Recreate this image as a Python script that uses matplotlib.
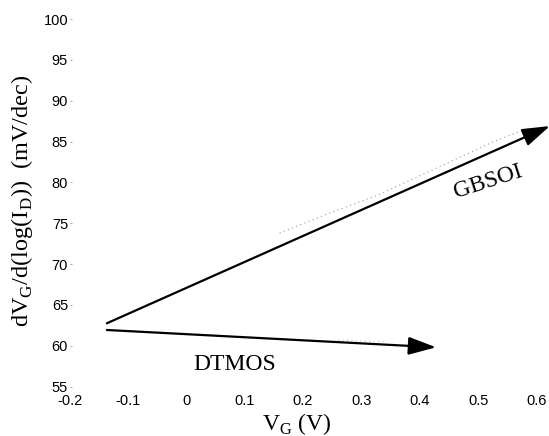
import matplotlib
matplotlib.use("Agg")
import matplotlib.pyplot as plt

# Axis ranges / ticks
x_ticks = [-0.2, -0.1, 0, 0.1, 0.2, 0.3, 0.4, 0.5, 0.6]
x_tick_labels = ["-0.2", "-0.1", "0", "0.1", "0.2", "0.3", "0.4", "0.5", "0.6"]
y_ticks = [55, 60, 65, 70, 75, 80, 85, 90, 95, 100]

# Arrows (start -> tip) in data coordinates
gbsoi_x = [-0.136, 0.623]
gbsoi_y = [62.76, 86.9]
dtmos_x = [-0.136, 0.428]
dtmos_y = [61.94, 59.82]

# faint dotted data traces (scanned remnants)
gb_trace_x = [0.16, 0.24, 0.33, 0.43, 0.53, 0.57]
gb_trace_y = [73.8, 76.1, 78.5, 81.8, 85.1, 86.2]
dt_trace_x = [0.26, 0.30, 0.34]
dt_trace_y = [60.7, 60.6, 60.5]

fig = plt.figure(figsize=(5.49, 4.36), dpi=100)
ax = fig.add_axes([0.1266, 0.1131, 0.8506, 0.8433])
ax.set_xlim(-0.2, 0.6)
ax.set_ylim(55, 100)
for s in ax.spines.values():
    s.set_visible(False)

ax.set_xticks(x_ticks)
ax.set_xticklabels(x_tick_labels)
ax.set_yticks(y_ticks)
ax.tick_params(axis="both", direction="in", length=1.5, width=0.6, color="#999999",
               labelsize=10.5, labelfontfamily="Liberation Sans")
ax.tick_params(axis="x", pad=5, bottom=False)
ax.tick_params(axis="y", pad=1)

ax.plot(gb_trace_x, gb_trace_y, linestyle=(0, (1, 3)), color="#999999", lw=0.8)
ax.plot(dt_trace_x, dt_trace_y, linestyle=(0, (1, 3)), color="#bbbbbb", lw=0.8)

for xs, ys in [(gbsoi_x, gbsoi_y), (dtmos_x, dtmos_y)]:
    ax.annotate("", xy=(xs[1], ys[1]), xytext=(xs[0], ys[0]),
                annotation_clip=False,
                arrowprops=dict(arrowstyle="-|>,head_length=1.7,head_width=0.55",
                                color="black", lw=1.6, shrinkA=0, shrinkB=0))

ax.text(0.517, 80.05, "GBSOI", family="Liberation Serif", fontsize=17,
        rotation=18, rotation_mode="anchor", ha="center", va="center")
ax.text(0.083, 57.04, "DTMOS", family="Liberation Serif", fontsize=17,
        ha="center", va="baseline")

fig.text(0.5404, 0.0138, r"V$_\mathregular{G}$ (V)", family="Liberation Serif",
         fontsize=17, ha="center", va="baseline")
fig.text(0.0396, 0.539, r"dV$_\mathregular{G}$/d(log(I$_\mathregular{D}$))  (mV/dec)",
         family="Liberation Serif", fontsize=17.5, rotation=90, ha="center", va="center")

fig.savefig("out.png", dpi=100)
